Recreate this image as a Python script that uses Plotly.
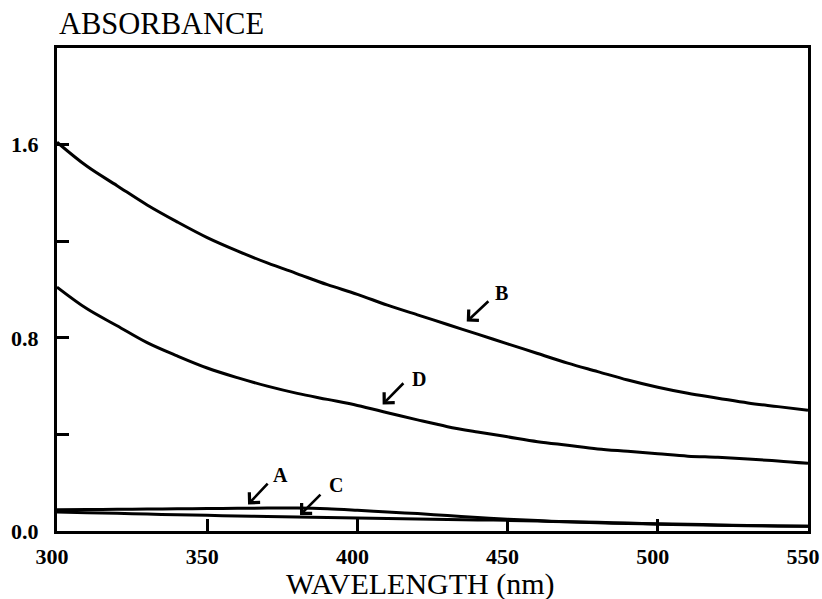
import plotly.graph_objects as go

wavelength = [300, 310, 320, 330, 340, 350, 360, 370, 380, 390, 400, 410, 420,
              430, 440, 450, 460, 470, 480, 490, 500, 510, 520, 530, 540, 550]
curve_B = [1.61, 1.51, 1.43, 1.35, 1.28, 1.215, 1.16, 1.11, 1.065, 1.02, 0.98, 0.935, 0.895,
           0.855, 0.815, 0.775, 0.735, 0.695, 0.66, 0.625, 0.595, 0.57, 0.55, 0.53, 0.515, 0.50]
curve_D = [1.01, 0.92, 0.85, 0.78, 0.725, 0.675, 0.635, 0.60, 0.57, 0.545, 0.52, 0.49, 0.46,
           0.432, 0.41, 0.39, 0.37, 0.355, 0.34, 0.33, 0.32, 0.31, 0.305, 0.298, 0.29, 0.28]
curve_A = [0.088, 0.089, 0.090, 0.091, 0.092, 0.093, 0.094, 0.095, 0.095, 0.092, 0.086, 0.079, 0.072,
           0.064, 0.056, 0.049, 0.043, 0.038, 0.034, 0.031, 0.028, 0.026, 0.024, 0.022, 0.021, 0.020]
curve_C = [0.079, 0.076, 0.073, 0.070, 0.067, 0.065, 0.062, 0.060, 0.058, 0.056, 0.054, 0.052, 0.050,
           0.048, 0.046, 0.044, 0.041, 0.038, 0.036, 0.033, 0.030, 0.028, 0.025, 0.023, 0.021, 0.020]

x_ticks = [300, 350, 400, 450, 500, 550]
y_ticks = [0.0, 0.4, 0.8, 1.2, 1.6, 2.0]
y_tick_text = ["0.0", "", "0.8", "", "1.6", ""]

# label letter, arrow head (x, y), arrow tail (x, y), label position (x, y)
labels = ["A", "B", "C", "D"]
heads = [(363.6, 0.110), (436.4, 0.867), (380.9, 0.066), (408.4, 0.524)]
tails = [(370.6, 0.202), (444.1, 0.957), (388.2, 0.157), (415.8, 0.618)]
label_pos = [(374.5, 0.230), (448.0, 0.985), (393.0, 0.190), (420.5, 0.630)]

serif = "Liberation Serif"
fig = go.Figure()
for name, ys in [("A", curve_A), ("B", curve_B), ("C", curve_C), ("D", curve_D)]:
    fig.add_trace(go.Scatter(x=wavelength, y=ys, mode="lines", name=name,
                             line=dict(color="black", width=3, shape="spline"),
                             showlegend=False))

annotations = []
for lab, h, t, p in zip(labels, heads, tails, label_pos):
    annotations.append(dict(x=h[0], y=h[1], ax=t[0], ay=t[1], xref="x", yref="y",
                            axref="x", ayref="y", text="", showarrow=True,
                            arrowhead=4, arrowsize=1.1, arrowwidth=2.6, arrowcolor="black"))
    annotations.append(dict(x=p[0], y=p[1], xref="x", yref="y", text="<b>%s</b>" % lab,
                            showarrow=False, font=dict(family=serif, size=20, color="black")))

annotations.append(dict(x=57, y=24, xref="paper", yref="paper", text="ABSORBANCE",
                        showarrow=False, xanchor="left", yanchor="middle",
                        font=dict(family=serif, size=30.5, color="black")))
annotations.append(dict(x=420, y=584, xref="paper", yref="paper", text="WAVELENGTH (nm)",
                        showarrow=False, xanchor="center", yanchor="middle",
                        font=dict(family=serif, size=30, color="black")))

# convert pixel-placed titles to paper coords
L, R, T, B = 57, 14, 48, 68
W, H = 822, 599
pw, ph = W - L - R, H - T - B
for a in annotations[-2:]:
    a["x"] = (a["x"] - L) / pw
    a["y"] = 1 - (a["y"] - T) / ph

fig.update_layout(
    width=W, height=H,
    margin=dict(l=L, r=R, t=T, b=B, pad=0),
    plot_bgcolor="white", paper_bgcolor="white",
    annotations=annotations,
    xaxis=dict(range=[300, 550], tickvals=x_ticks, ticktext=[str(v) for v in x_ticks],
               ticks="inside", ticklen=12, tickwidth=2.5, tickcolor="black",
               showline=True, linewidth=3, linecolor="black", mirror=True,
               showgrid=False, zeroline=False, ticklabelstandoff=4,
               ticklabelshift=-5, ticklabeloverflow="allow", automargin=False,
               tickfont=dict(family=serif, size=22, color="black", weight="bold")),
    yaxis=dict(range=[0, 2.0], tickvals=y_ticks, ticktext=y_tick_text,
               ticks="inside", ticklen=12, tickwidth=2.5, tickcolor="black",
               showline=True, linewidth=3, linecolor="black", mirror=True,
               showgrid=False, zeroline=False, ticklabelstandoff=11,
               ticklabeloverflow="allow", automargin=False,
               tickfont=dict(family=serif, size=22, color="black", weight="bold")),
)

fig.write_html("out.html")
